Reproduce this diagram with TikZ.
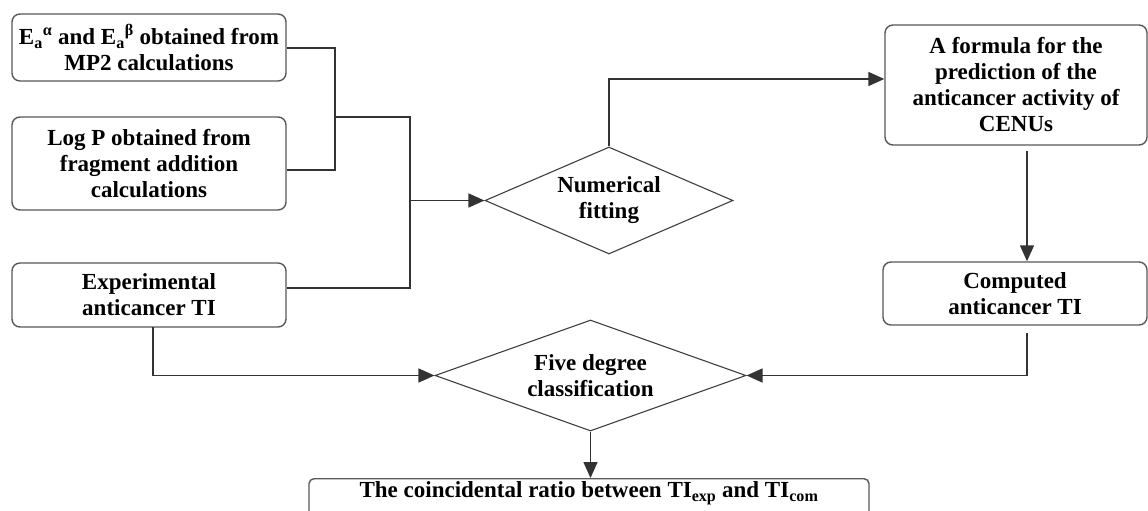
\documentclass[tikz,border=0pt]{standalone}
\usepackage{fontspec}
\setmainfont{Liberation Serif}
\usetikzlibrary{arrows.meta,shapes.geometric}
\newcommand{\zl}[1]{\makebox[0pt]{#1}}
\begin{document}
\begin{tikzpicture}[x=1pt,y=-1pt,
  txt/.style={font=\bfseries\fontsize{23}{26}\selectfont, align=center, text=black},
  rbox/.style={txt, draw=black!65, line width=1.4pt, rounded corners=8pt, inner sep=0pt},
  dia/.style={txt, diamond, draw=black!75, line width=1.1pt, inner sep=0pt},
  conn/.style={draw=black!80, line width=1.5pt},
  arr/.style={conn, -{Triangle[length=16pt,width=14pt]}}
]
\useasboundingbox (0,0) rectangle (1148,511);
\clip (0,0) rectangle (1148,511);
\fill[white] (0,0) rectangle (1148,511);

\node[rbox, minimum width=274pt, minimum height=67pt] (ea) at (149,47.5)
  {E\textsubscript{a}\textsuperscript{α} and E\textsubscript{a}\textsuperscript{β} obtained from\\MP2 calculations};
\node[rbox, minimum width=274pt, minimum height=93pt] (lp) at (149,163.5)
  {Log P obtained from\\fragment addition\\calculations};
\node[rbox, minimum width=274pt, minimum height=64pt] (ex) at (149,295)
  {Experimental\\anticancer TI};
\node[dia, minimum width=248pt, minimum height=107pt] (nf) at (609,200.5)
  {\zl{Numerical}\\\zl{fitting}};
\node[rbox, minimum width=262pt, minimum height=120pt] (fo) at (1016,85)
  {A formula for the\\prediction of the\\anticancer activity of\\CENUs};
\node[rbox, minimum width=264pt, minimum height=63pt] (co) at (1015,293.5)
  {Computed\\anticancer TI};
\node[dia, minimum width=311pt, minimum height=111pt] (fd) at (590.5,375.5)
  {\zl{Five degree}\\\zl{classification}};
\node[rbox, rounded corners=5pt, minimum width=560pt, text height=15pt, text depth=36pt, inner sep=4pt, anchor=north] (tc) at (589,478)
  {The coincidental ratio between TI\textsubscript{exp} and TI\textsubscript{com}};

\coordinate (j1) at (335,117);
\coordinate (j2) at (410,200.5);
\path[conn] (ea.east |- 0,48) -| (335,170) -- (lp.east |- 0,170);
\path[conn] (j1) -- (410,117) -- (410,288) -- (ex.east |- 0,288);
\path[arr] (j2) -- (nf.west);
\path[arr] (nf.north) |- (fo.west |- 0,79);
\path[arr] (fo.south) ++(11,5) -- (co.north -| 1027,0);
\path[arr] (1027,333) |- (fd.east);
\path[arr] (153,327) |- (fd.west);
\path[arr] (fd.south) -- (fd.south |- tc.north);
\end{tikzpicture}
\end{document}
